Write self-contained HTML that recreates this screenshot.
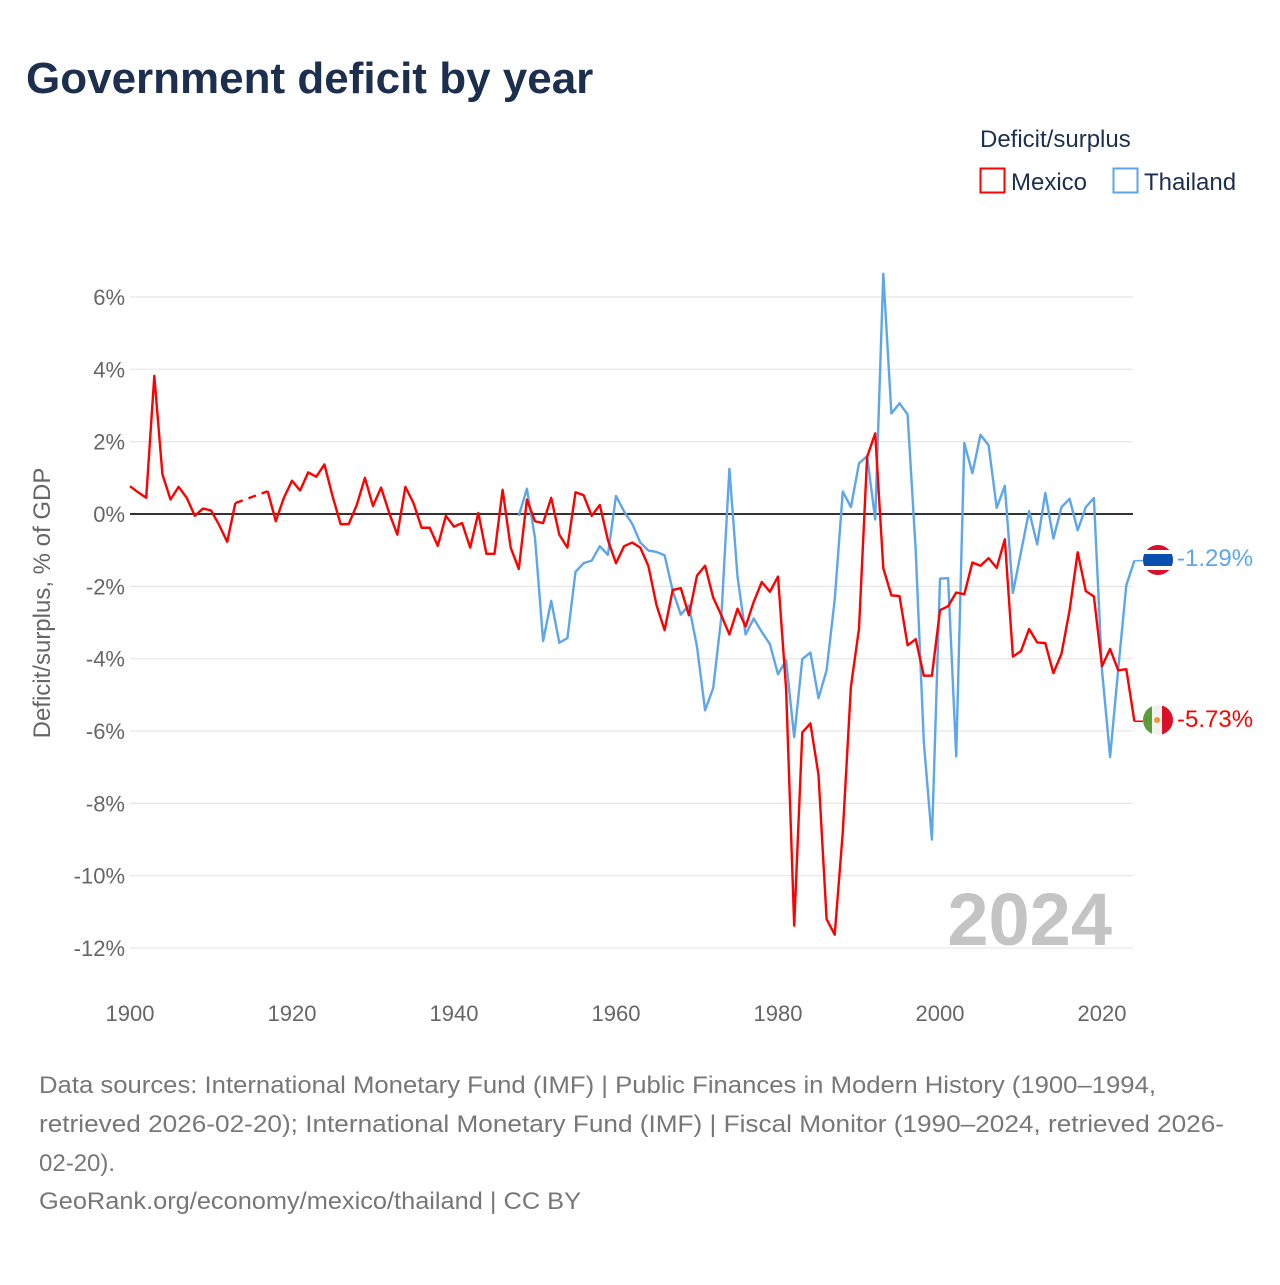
<!DOCTYPE html>
<html><head><meta charset="utf-8"><style>
body{margin:0;background:#fff;}
svg text{font-family:"Liberation Sans",sans-serif;}
</style></head><body>
<svg id="chart" width="1280" height="1280" viewBox="0 0 1280 1280" xmlns="http://www.w3.org/2000/svg">
<text x="26" y="93" font-size="44" font-weight="bold" fill="#1c2f4e">Government deficit by year</text>
<text x="980" y="147" font-size="24" fill="#1c2f4e">Deficit/surplus</text>
<g><rect x="980.5" y="168.5" width="24" height="24" fill="none" stroke="#f00" stroke-width="2"/><text x="1011" y="190" font-size="24" fill="#1c2f4e">Mexico</text></g>
<g><rect x="1113.5" y="168.5" width="24" height="24" fill="none" stroke="#5ea6ea" stroke-width="2"/><text x="1144" y="190" font-size="24" fill="#1c2f4e">Thailand</text></g>
<text transform="translate(50,603) rotate(-90)" text-anchor="middle" font-size="24" fill="#666">Deficit/surplus, % of GDP</text>
<g id="grid"></g><g id="series"></g>
<text x="1112" y="945" text-anchor="end" font-size="74" font-weight="bold" fill="#c4c4c4">2024</text>
<g>
<clipPath id="ct"><circle cx="1158" cy="560" r="15"/></clipPath>
<g clip-path="url(#ct)"><rect x="1140" y="544" width="36" height="32" fill="#d8102b"/><rect x="1140" y="550" width="36" height="20" fill="#fff"/><rect x="1140" y="554" width="36" height="12" fill="#0a4fb0"/></g>
<text x="1177" y="566" font-size="24" fill="#5ea6ea">-1.29%</text></g>
<g>
<clipPath id="cm"><circle cx="1158" cy="720" r="15"/></clipPath>
<g clip-path="url(#cm)"><rect x="1140" y="704" width="12" height="32" fill="#5e9a3a"/><rect x="1152" y="704" width="10" height="32" fill="#f2f2f2"/><rect x="1162" y="704" width="14" height="32" fill="#d8102b"/><circle cx="1157" cy="720" r="3" fill="#e89a30"/></g>
<text x="1177" y="727" font-size="24" fill="#f00">-5.73%</text></g>
<g font-size="24" fill="#777">
<text x="39" y="1093" textLength="1117" lengthAdjust="spacingAndGlyphs">Data sources: International Monetary Fund (IMF) | Public Finances in Modern History (1900–1994,</text>
<text x="39" y="1132" textLength="1185" lengthAdjust="spacingAndGlyphs">retrieved 2026-02-20); International Monetary Fund (IMF) | Fiscal Monitor (1990–2024, retrieved 2026-</text>
<text x="39" y="1171">02-20).</text>
<text x="39" y="1209" textLength="542" lengthAdjust="spacingAndGlyphs">GeoRank.org/economy/mexico/thailand | CC BY</text>
</g>
</svg>
<script>
const yTicks=[6,4,2,0,-2,-4,-6,-8,-10,-12];
const xTicks=[1900,1920,1940,1960,1980,2000,2020];
const mexicoStart=1900;
const mexico=[0.77,0.6,0.45,3.82,1.1,0.4,0.75,0.45,-0.05,0.15,0.1,-0.3,-0.77,0.3,null,null,null,0.63,-0.2,0.45,0.92,0.65,1.15,1.03,1.37,0.5,-0.28,-0.28,0.25,1.0,0.22,0.73,0.03,-0.57,0.75,0.3,-0.38,-0.38,-0.88,-0.05,-0.35,-0.25,-0.93,0.03,-1.1,-1.1,0.67,-0.93,-1.52,0.4,-0.2,-0.25,0.45,-0.57,-0.93,0.6,0.52,-0.05,0.25,-0.72,-1.36,-0.89,-0.79,-0.93,-1.44,-2.52,-3.21,-2.1,-2.05,-2.8,-1.7,-1.43,-2.31,-2.8,-3.33,-2.62,-3.11,-2.43,-1.88,-2.15,-1.73,-4.84,-11.38,-6.04,-5.79,-7.21,-11.2,-11.63,-8.79,-4.78,-3.17,1.58,2.23,-1.5,-2.25,-2.27,-3.63,-3.46,-4.47,-4.47,-2.66,-2.55,-2.17,-2.22,-1.34,-1.43,-1.22,-1.49,-0.7,-3.94,-3.79,-3.18,-3.55,-3.57,-4.4,-3.86,-2.66,-1.06,-2.13,-2.28,-4.21,-3.73,-4.32,-4.29,-5.73];
const thailandStart=1948;
const thailand=[-0.05,0.7,-0.66,-3.51,-2.4,-3.56,-3.43,-1.6,-1.36,-1.29,-0.89,-1.13,0.5,0.07,-0.27,-0.79,-1.01,-1.05,-1.14,-2.12,-2.78,-2.53,-3.67,-5.43,-4.81,-2.86,1.25,-1.73,-3.33,-2.89,-3.26,-3.6,-4.43,-4.04,-6.17,-4.01,-3.83,-5.09,-4.32,-2.37,0.62,0.19,1.4,1.6,-0.15,6.64,2.78,3.06,2.75,-1.0,-6.3,-9.0,-1.79,-1.77,-6.7,1.96,1.13,2.19,1.9,0.17,0.78,-2.18,-1.05,0.08,-0.84,0.58,-0.68,0.19,0.42,-0.45,0.19,0.44,-4.32,-6.72,-4.3,-1.97,-1.29];
const X=y=>130+(y-1900)*8.1;
const Y=v=>514-v*36.17;
const NS="http://www.w3.org/2000/svg";
const grid=document.getElementById('grid'),ser=document.getElementById('series');
function mk(tag,at,parent){const e=document.createElementNS(NS,tag);for(const k in at)e.setAttribute(k,at[k]);parent.appendChild(e);return e;}
yTicks.forEach(t=>{
 const l=mk('line',{x1:130,x2:1133,y1:Y(t),y2:Y(t),stroke:t===0?'#333':'#e6e6e6','stroke-width':t===0?2:1.2},grid);
 
 
 const tx=mk('text',{x:125,y:Y(t)+8,'text-anchor':'end','font-size':22,fill:'#666'},grid);
 tx.textContent=t+'%';
 
 
});
xTicks.forEach(t=>{
 const tx=mk('text',{x:X(t),y:1021,'text-anchor':'middle','font-size':22,fill:'#666'},grid);
 tx.textContent=t;
 
 
});
function draw(vals,start,color,name){
 let segs=[],cur=[],last=null,dashes=[];
 vals.forEach((v,i)=>{
  if(v===null){if(cur.length)segs.push(cur);cur=[];return;}
  const p=[X(start+i),Y(v)];
  if(!cur.length&&last&&last.i<i-1)dashes.push([last.p,p]);
  cur.push(p);last={i,p};
 });
 if(cur.length)segs.push(cur);
 segs.forEach(s=>{
  const pl=mk('polyline',{points:s.map(p=>p.join(',')).join(' '),fill:'none',stroke:color,'stroke-width':2.4,'stroke-linejoin':'round'},ser);
  
  
 });
 dashes.forEach(d=>{
  const dl=mk('line',{x1:d[0][0],y1:d[0][1],x2:d[1][0],y2:d[1][1],stroke:color,'stroke-width':2.4,'stroke-dasharray':'8 6'},ser);
  
  
 });
 const lv=vals[vals.length-1];
 const c=mk('line',{x1:X(start+vals.length-1),y1:Y(lv),x2:1143,y2:Y(lv),stroke:color,'stroke-width':1.5},ser);
 
 
}
draw(thailand,thailandStart,'#5ea6ea','thailand');
draw(mexico,mexicoStart,'#ff0000','mexico');
</script>
</body></html>
